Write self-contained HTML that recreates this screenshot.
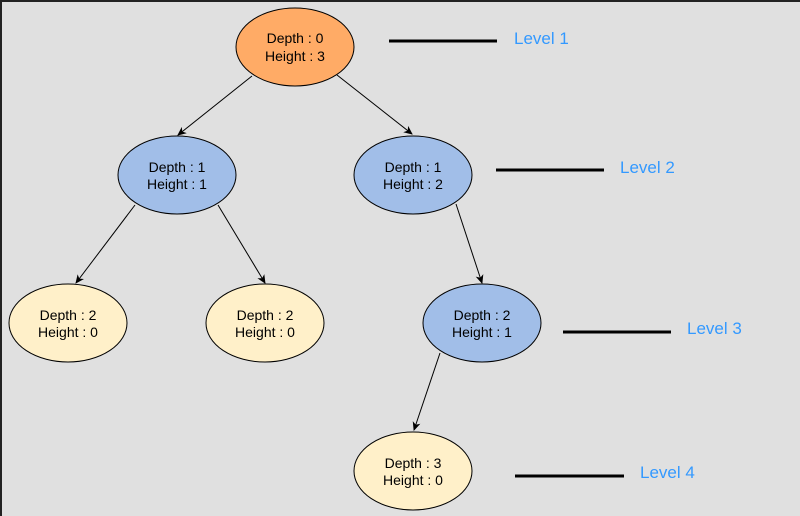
<!DOCTYPE html>
<html><head><style>
html,body{margin:0;padding:0;background:#e0e0e0;}
svg{display:block;}
</style></head><body>
<svg width="800" height="516" xmlns="http://www.w3.org/2000/svg" font-family="Liberation Sans, Arial, sans-serif">
<defs><marker id="a" markerWidth="10" markerHeight="10" refX="8" refY="4" orient="auto" markerUnits="userSpaceOnUse"><path d="M0,0 L9,4 L0,8 L2.5,4 Z" fill="#000"/></marker></defs>
<rect width="800" height="516" fill="#e0e0e0"/>
<rect x="0" y="0" width="800" height="2" fill="#222"/>
<rect x="0" y="0" width="2" height="516" fill="#222"/>
<g stroke="#000" stroke-width="1" marker-end="url(#a)">
<line x1="252" y1="76" x2="178" y2="135"/>
<line x1="337" y1="75" x2="412" y2="134"/>
<line x1="135" y1="205" x2="76" y2="283"/>
<line x1="218" y1="205" x2="265" y2="283"/>
<line x1="456" y1="204" x2="482" y2="283"/>
<line x1="440" y1="353" x2="414" y2="430"/>
</g>
<g stroke="#000" stroke-width="1">
<ellipse cx="295" cy="47" rx="59" ry="39" fill="#ffab66"/>
<ellipse cx="177" cy="175" rx="59" ry="39" fill="#a1bee8"/>
<ellipse cx="413" cy="175" rx="59" ry="39" fill="#a1bee8"/>
<ellipse cx="68" cy="323" rx="59" ry="39" fill="#fff0c9"/>
<ellipse cx="265" cy="323" rx="59" ry="39" fill="#fff0c9"/>
<ellipse cx="482" cy="323" rx="59" ry="39" fill="#a1bee8"/>
<ellipse cx="413" cy="471" rx="59" ry="39" fill="#fff0c9"/>
</g>
<g font-size="14" text-anchor="middle" fill="#000">
<text x="295" y="43">Depth : 0</text><text x="295" y="61">Height : 3</text>
<text x="177" y="172">Depth : 1</text><text x="177" y="189">Height : 1</text>
<text x="413" y="172">Depth : 1</text><text x="413" y="189">Height : 2</text>
<text x="68" y="320">Depth : 2</text><text x="68" y="337">Height : 0</text>
<text x="265" y="320">Depth : 2</text><text x="265" y="337">Height : 0</text>
<text x="482" y="320">Depth : 2</text><text x="482" y="337">Height : 1</text>
<text x="413" y="468">Depth : 3</text><text x="413" y="485">Height : 0</text>
</g>
<g stroke="#000" stroke-width="3">
<line x1="389" y1="41" x2="497" y2="41"/>
<line x1="496" y1="170" x2="604" y2="170"/>
<line x1="563" y1="332" x2="671" y2="332"/>
<line x1="515" y1="476" x2="624" y2="476"/>
</g>
<g font-size="17" fill="#3399ff">
<text x="514" y="44">Level 1</text>
<text x="620" y="173">Level 2</text>
<text x="687" y="334">Level 3</text>
<text x="640" y="478">Level 4</text>
</g>
</svg>
</body></html>
